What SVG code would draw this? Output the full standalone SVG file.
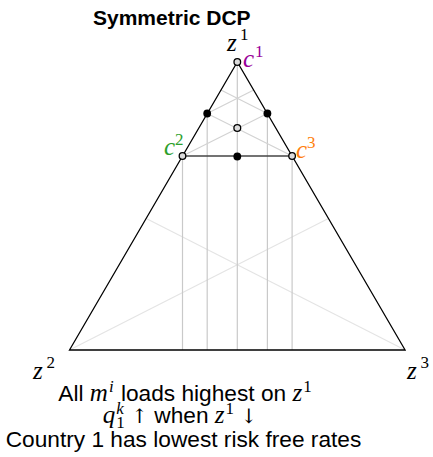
<svg xmlns="http://www.w3.org/2000/svg" width="433" height="457" viewBox="0 0 433 457">
<style>
.title{font-family:"Liberation Sans",Arial,sans-serif;font-weight:bold;font-size:21px;fill:#000}
.t{font-family:"Liberation Sans",Arial,sans-serif;font-size:22.7px;fill:#000}
.m{font-family:"Liberation Serif","Times New Roman",serif;font-style:italic;font-size:25px}
.r{font-family:"Liberation Serif","Times New Roman",serif;font-style:normal;font-size:17px}
.ri{font-family:"Liberation Serif","Times New Roman",serif;font-style:italic;font-size:17px}
.ar{font-family:"DejaVu Serif","Liberation Serif",serif;font-size:20px}
.edge{stroke:#000;stroke-width:1.3;fill:none}
.g1{stroke:#e4e4e4;stroke-width:1.1;fill:none}
.g2{stroke:#d2d2d2;stroke-width:1.1;fill:none}
.gv{stroke:#c9c9c9;stroke-width:1.2;fill:none}
.open{fill:#dcdcdc;stroke:#000;stroke-width:1.3}
.dot{fill:#000}
</style>
<rect width="433" height="457" fill="#fff"/>
<text class="title" x="93" y="25">Symmetric DCP</text>
<g id="connectors">
  <line class="g1" x1="69.5" y1="350" x2="328.4" y2="218.5"/>
  <line class="g1" x1="405.1" y1="350" x2="146.2" y2="218.5"/>
  <line class="gv" x1="182.5" y1="156" x2="182.5" y2="350"/>
  <line class="gv" x1="207.2" y1="113.5" x2="207.2" y2="350"/>
  <line class="gv" x1="237.3" y1="62" x2="237.3" y2="350"/>
  <line class="gv" x1="267.4" y1="113.5" x2="267.4" y2="350"/>
  <line class="gv" x1="292.1" y1="156" x2="292.1" y2="350"/>
  <line class="g2" x1="182.5" y1="156" x2="267.4" y2="113.5"/>
  <line class="g2" x1="292.1" y1="156" x2="207.2" y2="113.5"/>
  <line class="g2" x1="207.2" y1="113.5" x2="253.7" y2="90.1"/>
  <line class="g2" x1="267.4" y1="113.5" x2="220.9" y2="90.1"/>
  <line x1="182.5" y1="156" x2="292.1" y2="156" stroke="#444" stroke-width="1.6"/>
  <polygon class="edge" points="237.3,62 69.5,350 405.1,350"/>
</g>
<g id="z1"><text class="m" x="227" y="51">z</text><text class="r" x="240" y="40">1</text></g>
<g id="z2"><text class="m" x="33" y="379">z</text><text class="r" x="46.5" y="368">2</text></g>
<g id="z3"><text class="m" x="407" y="379">z</text><text class="r" x="420.5" y="368">3</text></g>
<g id="c1"><circle class="open" cx="237.3" cy="62" r="3.3"/><text class="m" x="243" y="67" fill="#990099">c</text><text class="r" x="255" y="57" fill="#990099">1</text></g>
<g id="c2"><circle class="open" cx="182.5" cy="156" r="3.3"/><text class="m" x="164" y="155" fill="#2ca02c">c</text><text class="r" x="175" y="145" fill="#2ca02c">2</text></g>
<g id="c3"><circle class="open" cx="292.1" cy="156" r="3.3"/><text class="m" x="296" y="158" fill="#ff7f0e">c</text><text class="r" x="307" y="148" fill="#ff7f0e">3</text></g>
<g id="m12"><circle class="dot" cx="207.2" cy="113.5" r="3.9"/></g>
<g id="m13"><circle class="dot" cx="267.4" cy="113.5" r="3.9"/></g>
<g id="m23"><circle class="dot" cx="237.3" cy="156.5" r="3.9"/></g>
<g id="center"><circle class="open" cx="237.3" cy="128" r="3.4"/></g>
<g id="caption">
<text class="t" x="185" y="401" text-anchor="middle">All <tspan class="m">m</tspan><tspan class="ri" dx="1" dy="-9">i</tspan><tspan dx="1" dy="9"> loads highest on </tspan><tspan class="m">z</tspan><tspan class="r" dx="1" dy="-9">1</tspan></text>
<text class="t" x="180" y="423" text-anchor="middle"><tspan class="m">q</tspan><tspan class="ri" dx="1" dy="-9">k</tspan><tspan class="r" dx="-7.5" dy="14">1</tspan><tspan class="ar" dy="-5"> ↑</tspan> when <tspan class="m">z</tspan><tspan class="r" dx="1" dy="-9">1</tspan><tspan class="ar" dy="9"> ↓</tspan></text>
<text class="t" x="183.5" y="447" text-anchor="middle">Country 1 has lowest risk free rates</text>
</g>
</svg>
